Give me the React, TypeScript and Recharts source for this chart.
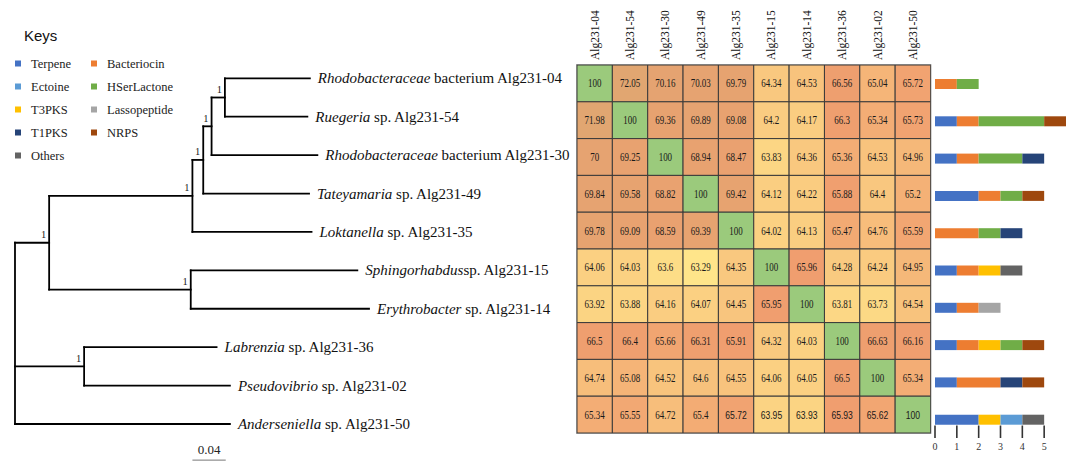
import React from "react"
import { ScatterChart, Scatter, XAxis, YAxis, ReferenceLine, ReferenceArea, BarChart, Bar } from "recharts"

// strains, in tree / heatmap order
const strains = ["Alg231-04", "Alg231-54", "Alg231-30", "Alg231-49", "Alg231-35", "Alg231-15", "Alg231-14", "Alg231-36", "Alg231-02", "Alg231-50"]
const genus = ["Rhodobacteraceae", "Ruegeria", "Rhodobacteraceae", "Tateyamaria", "Loktanella", "Sphingorhabdus", "Erythrobacter", "Labrenzia", "Pseudovibrio", "Anderseniella"]
const rank = [" bacterium ", " sp. ", " bacterium ", " sp. ", " sp. ", "sp. ", " sp. ", " sp. ", " sp. ", " sp. "]

// tree: distance of each tip / node from the root
const leafDepth = [0.354, 0.351, 0.363, 0.353, 0.356, 0.411, 0.425, 0.242, 0.258, 0.258]
const nodeIds = ["n1", "n2", "n3", "n4", "n5", "n6", "n7", "root"]
const nodeDepth = [0.252, 0.236, 0.226, 0.213, 0.211, 0.041, 0.083, 0]
const nodeChildren = [["L0", "L1"], ["n1", "L2"], ["n2", "L3"], ["n3", "L4"], ["L5", "L6"], ["n4", "n5"], ["L7", "L8"], ["n6", "n7", "L9"]]
const nodeSupport = [1, 1, 1, 1, 1, 1, 1, null]
const scaleBarStart = 0.213
const scaleBarLength = 0.04

// ANI matrix (%)
const ani = [
    [100, 72.05, 70.16, 70.03, 69.79, 64.34, 64.53, 66.56, 65.04, 65.72],
    [71.98, 100, 69.36, 69.89, 69.08, 64.2, 64.17, 66.3, 65.34, 65.73],
    [70, 69.25, 100, 68.94, 68.47, 63.83, 64.36, 65.36, 64.53, 64.96],
    [69.84, 69.58, 68.82, 100, 69.42, 64.12, 64.22, 65.88, 64.4, 65.2],
    [69.78, 69.09, 68.59, 69.39, 100, 64.02, 64.13, 65.47, 64.76, 65.59],
    [64.06, 64.03, 63.6, 63.29, 64.35, 100, 65.96, 64.28, 64.24, 64.95],
    [63.92, 63.88, 64.16, 64.07, 64.45, 65.95, 100, 63.81, 63.73, 64.54],
    [66.5, 66.4, 65.66, 66.31, 65.91, 64.32, 64.03, 100, 66.63, 66.16],
    [64.74, 65.08, 64.52, 64.6, 64.55, 64.06, 64.05, 66.5, 100, 65.34],
    [65.34, 65.55, 64.72, 65.4, 65.72, 63.95, 63.93, 65.93, 65.62, 100],
]
// cells typed in a sans font in the original
const sansCells = ["9-4", "9-5", "9-6", "9-7", "9-8", "9-9"]

// BGC counts per strain
const bgcTypes = ["Terpene", "Bacteriocin", "T3PKS", "Ectoine", "HSerLactone", "T1PKS", "Lassopeptide", "NRPS", "Others"]
const bgcColors = ["#4472C4", "#ED7D31", "#FFC000", "#5B9BD5", "#70AD47", "#264478", "#A5A5A5", "#9E480E", "#636363"]
const terpene = [0, 1, 1, 2, 0, 1, 1, 1, 1, 2]
const bacteriocin = [1, 1, 1, 1, 2, 1, 1, 1, 2, 0]
const t3pks = [0, 0, 0, 0, 0, 1, 0, 1, 0, 1]
const ectoine = [0, 0, 0, 0, 0, 0, 0, 0, 0, 1]
const hserlactone = [1, 3, 2, 1, 1, 0, 0, 1, 0, 0]
const t1pks = [0, 0, 1, 0, 1, 0, 0, 0, 1, 0]
const lassopeptide = [0, 0, 0, 0, 0, 0, 1, 0, 0, 0]
const nrps = [0, 1, 0, 1, 0, 0, 0, 1, 1, 0]
const others = [0, 0, 0, 0, 0, 1, 0, 0, 0, 1]
const bgcCounts = [terpene, bacteriocin, t3pks, ectoine, hserlactone, t1pks, lassopeptide, nrps, others]
const countTicks = [0, 1, 2, 3, 4, 5]

const legendCols = [
    ["Terpene", "Ectoine", "T3PKS", "T1PKS", "Others"],
    ["Bacteriocin", "HSerLactone", "Lassopeptide", "NRPS"],
]

const SERIF = "'Liberation Serif', 'Times New Roman', serif"
const SANS = "'Liberation Sans', Arial, sans-serif"

// ---- tree geometry
const yOf: Record<string, number> = {}
const depthOf: Record<string, number> = {}
strains.forEach((_, i) => {
    yOf["L" + i] = i
    depthOf["L" + i] = leafDepth[i]
})
nodeIds.forEach((id, k) => {
    const ys = nodeChildren[k].map((c) => yOf[c])
    yOf[id] = (Math.min(...ys) + Math.max(...ys)) / 2
    depthOf[id] = nodeDepth[k]
})
const segments: { x: number; y: number }[][] = []
nodeIds.forEach((id, k) => {
    const ys = nodeChildren[k].map((c) => yOf[c])
    segments.push([{ x: depthOf[id], y: Math.min(...ys) }, { x: depthOf[id], y: Math.max(...ys) }])
    nodeChildren[k].forEach((c) => {
        segments.push([{ x: depthOf[id], y: yOf[c] }, { x: depthOf[c], y: yOf[c] }])
    })
})
const leafPoints = strains.map((s, i) => ({ x: leafDepth[i], y: i, genus: genus[i], rest: rank[i] + s }))
const supportPoints = nodeIds
    .map((id, k) => ({ x: nodeDepth[k], y: yOf[id], label: nodeSupport[k] }))
    .filter((p) => p.label !== null)

const LeafLabel = (props: any) => {
    const { cx, cy, payload } = props
    return (
        <text x={cx + 8} y={cy + 5} fontFamily={SERIF} fontSize={15} fill="#111" style={{ whiteSpace: "pre" }}>
            <tspan fontStyle="italic">{payload.genus}</tspan>
            <tspan>{payload.rest}</tspan>
        </text>
    )
}

const SupportLabel = (props: any) => {
    const { cx, cy, payload } = props
    return (
        <text x={cx - 3} y={cy - 4.5} textAnchor="end" fontFamily={SERIF} fontSize={10.5} fill="#222">
            {payload.label}
        </text>
    )
}

// ---- heatmap
const heatCells = ani.flatMap((row, r) => row.map((v, c) => ({ col: c, row: r, value: v })))
const flat = ani.flat()
const HEAT_MIN = Math.min(...flat)
const HEAT_MAX = Math.max(...flat)
const HEAT_MID = 65.9
const LO = [255, 229, 138]
const MID = [240, 158, 111]
const HI = [155, 202, 124]

function mix(a: number[], b: number[], t: number) {
    const c = a.map((v, i) => Math.round(v + (b[i] - v) * Math.max(0, Math.min(1, t))))
    return `rgb(${c[0]},${c[1]},${c[2]})`
}
function heatColor(v: number) {
    if (v <= HEAT_MID) return mix(LO, MID, (v - HEAT_MIN) / (HEAT_MID - HEAT_MIN))
    return mix(MID, HI, (v - HEAT_MID) / (HEAT_MAX - HEAT_MID))
}

const CELL_W = 35.35
const CELL_H = 36.8

const HeatCell = (props: any) => {
    const { cx, cy, payload } = props
    const sans = sansCells.includes(`${payload.row}-${payload.col}`)
    return (
        <g>
            <rect
                x={cx - CELL_W / 2}
                y={cy - CELL_H / 2}
                width={CELL_W}
                height={CELL_H}
                fill={heatColor(payload.value)}
                stroke="#3a3a3a"
                strokeWidth={1}
            />
            <text
                transform={`translate(${cx},${cy + 4}) scale(0.78,1)`}
                textAnchor="middle"
                fontFamily={sans ? SANS : SERIF}
                fontSize={sans ? 11 : 11.5}
                fill="#1a1a1a"
            >
                {payload.value}
            </text>
        </g>
    )
}

const HeaderTick = (props: any) => {
    const { x, y, payload } = props
    return (
        <text
            transform={`translate(${x},${y - 5}) rotate(-90)`}
            dy="0.35em"
            textAnchor="start"
            fontFamily={SERIF}
            fontSize={11.5}
            fill="#111"
        >
            {strains[payload.value]}
        </text>
    )
}

// ---- BGC bars
const bgcRows = strains.map((s, i) => {
    const row: Record<string, number | string> = { name: s }
    bgcTypes.forEach((t, k) => (row[t] = bgcCounts[k][i]))
    return row
})

const CountTick = (props: any) => {
    const { x, y, payload } = props
    return (
        <g>
            <line x1={x} x2={x} y1={y - 12.5} y2={y} stroke="#333" strokeWidth={1.6} />
            <text x={x} y={y + 12} textAnchor="middle" fontFamily={SERIF} fontSize={10} fill="#333">
                {payload.value}
            </text>
        </g>
    )
}

function Keys() {
    const rowY = [63.5, 86.5, 109.5, 132.5, 155.5]
    const colX = [15, 91]
    return (
        <svg width={200} height={170} style={{ position: "absolute", left: 0, top: 0 }}>
            <text x={24} y={41} fontFamily={SANS} fontSize={15} fill="#111">
                Keys
            </text>
            {legendCols.map((col, ci) =>
                col.map((name, ri) => (
                    <g key={name}>
                        <rect x={colX[ci]} y={rowY[ri] - 3} width={6} height={6} fill={bgcColors[bgcTypes.indexOf(name)]} />
                        <text x={colX[ci] + 16} y={rowY[ri] + 4.5} fontFamily={SERIF} fontSize={12.5} fill="#222">
                            {name}
                        </text>
                    </g>
                ))
            )}
        </svg>
    )
}

export default function App() {
    return (
        <div style={{ position: "absolute", left: 0, top: 0, width: 1072, height: 462, background: "#fff" }}>
            <div style={{ position: "absolute", left: 0, top: 0 }}>
                <ScatterChart width={575} height={462} margin={{ top: 0, right: 0, bottom: 0, left: 0 }}>
                    <XAxis type="number" dataKey="x" hide domain={[-0.018, 0.6723]} allowDataOverflow />
                    <YAxis type="number" dataKey="y" hide reversed domain={[-2.0385, 9.989]} allowDataOverflow />
                    {segments.map((seg, i) => (
                        <ReferenceLine
                            key={i}
                            segment={seg}
                            stroke="#000"
                            strokeWidth={1.8}
                            strokeLinecap="square"
                            ifOverflow="visible"
                        />
                    ))}
                    <ReferenceLine
                        segment={[
                            { x: scaleBarStart, y: 9.94 },
                            { x: scaleBarStart + scaleBarLength, y: 9.94 },
                        ]}
                        stroke="#777"
                        strokeWidth={1}
                        ifOverflow="visible"
                        label={{ value: "0.04", position: "top", fontFamily: SERIF, fontSize: 13, fill: "#222", offset: 6 }}
                    />
                    <Scatter data={leafPoints} shape={LeafLabel} isAnimationActive={false} />
                    <Scatter data={supportPoints} shape={SupportLabel} isAnimationActive={false} />
                </ScatterChart>
            </div>
            <Keys />
            <div style={{ position: "absolute", left: 560, top: 0 }}>
                <ScatterChart width={400} height={462} margin={{ top: 15, right: 29.5, bottom: 29, left: 17 }}>
                    <XAxis
                        type="number"
                        dataKey="col"
                        orientation="top"
                        domain={[-0.5, 9.5]}
                        ticks={[0, 1, 2, 3, 4, 5, 6, 7, 8, 9]}
                        height={50}
                        axisLine={false}
                        tickLine={false}
                        tickSize={0}
                        tickMargin={0}
                        interval={0}
                        tick={<HeaderTick />}
                        allowDataOverflow
                    />
                    <YAxis type="number" dataKey="row" hide reversed domain={[-0.5, 9.5]} allowDataOverflow />
                    <Scatter data={heatCells} shape={HeatCell} isAnimationActive={false} />
                    <ReferenceArea x1={-0.5} x2={9.5} y1={-0.5} y2={9.5} fill="none" stroke="#555" strokeWidth={1.5} ifOverflow="visible" />
                </ScatterChart>
            </div>
            <div style={{ position: "absolute", left: 925, top: 0 }}>
                <BarChart
                    width={147}
                    height={462}
                    data={bgcRows}
                    layout="vertical"
                    barSize={10}
                    margin={{ top: 65, right: 6, bottom: 4, left: 10 }}
                >
                    <XAxis
                        type="number"
                        domain={[0, 6]}
                        ticks={countTicks}
                        height={20}
                        axisLine={false}
                        tickLine={false}
                        tickSize={0}
                        tickMargin={0}
                        interval={0}
                        tick={<CountTick />}
                        allowDataOverflow
                    />
                    <YAxis type="category" dataKey="name" hide />
                    {bgcTypes.map((t, k) => (
                        <Bar key={t} dataKey={t} stackId="bgc" fill={bgcColors[k]} isAnimationActive={false} />
                    ))}
                </BarChart>
            </div>
        </div>
    )
}
